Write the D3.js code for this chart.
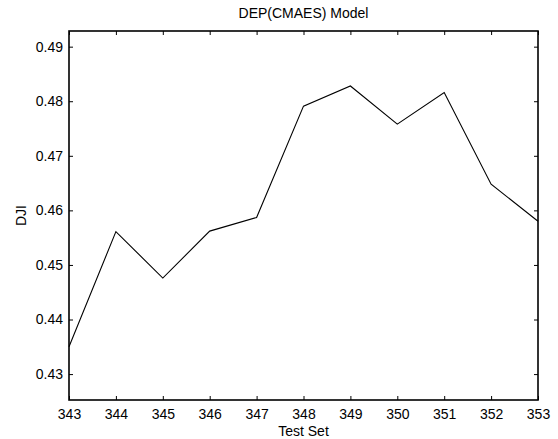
<!DOCTYPE html>
<html>
<head>
<meta charset="utf-8">
<script src="https://cdn.jsdelivr.net/npm/d3@7"></script>
<style>
html,body{margin:0;padding:0;background:#fff;}
svg{display:block;}
text{font-family:"Liberation Sans",Arial,Helvetica,sans-serif;fill:#000;}
</style>
</head>
<body>
<script>
const testSet = [343,344,345,346,347,348,349,350,351,352,353];
const dji = [0.4350,0.4561,0.4476,0.4562,0.4587,0.4791,0.4828,0.4758,0.4816,0.4648,0.4580];
const xTicks = [343,344,345,346,347,348,349,350,351,352,353];
const yTicks = [0.43,0.44,0.45,0.46,0.47,0.48,0.49];
const titleText = "DEP(CMAES) Model";
const xLabel = "Test Set";
const yLabel = "DJI";

const W = 558, H = 439;
const m = {left:69, top:31, right:538, bottom:400};
const svg = d3.select("body").append("svg").attr("width",W).attr("height",H);

const x = d3.scaleLinear().domain([343,353]).range([m.left,m.right]);
const y = d3.scaleLinear().domain([0.42525,0.49287]).range([m.bottom,m.top]);

const fs = 14;
// axes
const gx = svg.append("g").attr("transform",`translate(0,${m.bottom})`)
  .call(d3.axisBottom(x).tickValues(xTicks).tickFormat(d3.format("d")).tickSize(-4).tickPadding(9));
const gxt = svg.append("g").attr("transform",`translate(0,${m.top})`)
  .call(d3.axisTop(x).tickValues(xTicks).tickFormat("").tickSize(-4));
const gy = svg.append("g").attr("transform",`translate(${m.left},0)`)
  .call(d3.axisLeft(y).tickValues(yTicks).tickFormat(d3.format(".2f")).tickSize(-4).tickPadding(6));
const gyr = svg.append("g").attr("transform",`translate(${m.right},0)`)
  .call(d3.axisRight(y).tickValues(yTicks).tickFormat("").tickSize(-4));
[gx,gxt,gy,gyr].forEach(g=>{
  g.select(".domain").remove();
  g.selectAll(".tick line").attr("stroke","#000").attr("stroke-width",1);
  g.selectAll(".tick text").attr("font-size",fs).attr("font-family","Liberation Sans, Arial, sans-serif").attr("fill","#000");
});

// box
svg.append("rect").attr("x",m.left).attr("y",m.top)
  .attr("width",m.right-m.left).attr("height",m.bottom-m.top)
  .attr("fill","none").attr("stroke","#000").attr("stroke-width",1.6);

// line
const line = d3.line().x((d,i)=>x(testSet[i])).y(d=>y(d));
svg.append("path").datum(dji).attr("d",line)
  .attr("fill","none").attr("stroke","#000").attr("stroke-width",1.1);

// labels
svg.append("text").attr("x",(m.left+m.right)/2).attr("y",18)
  .attr("text-anchor","middle").attr("font-size",fs).text(titleText);
svg.append("text").attr("x",(m.left+m.right)/2).attr("y",436)
  .attr("text-anchor","middle").attr("font-size",fs).text(xLabel);
svg.append("text").attr("transform",`translate(26,${(m.top+m.bottom)/2}) rotate(-90)`)
  .attr("text-anchor","middle").attr("font-size",fs).text(yLabel);
</script>
</body>
</html>
